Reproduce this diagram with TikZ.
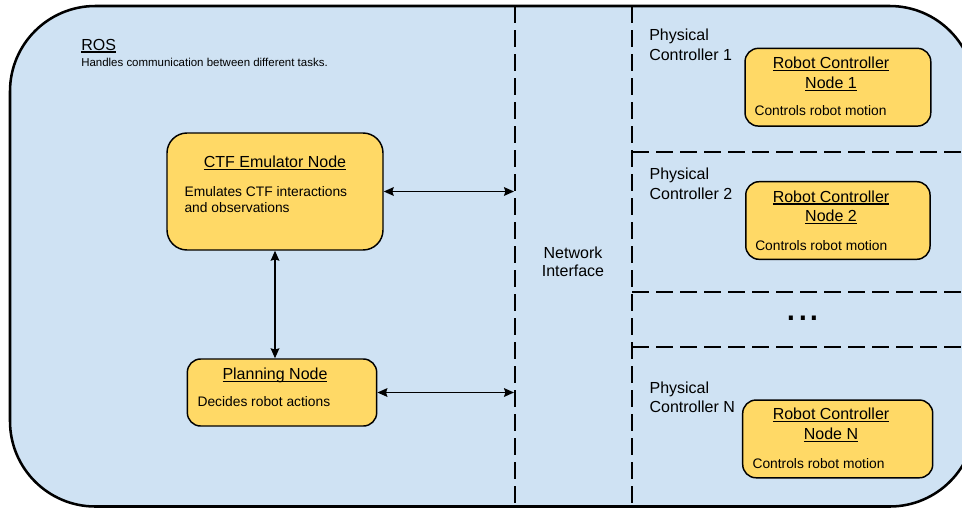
\documentclass[tikz,border=0pt]{standalone}
\usepackage{fontspec}
\setmainfont{Liberation Sans}
\usetikzlibrary{arrows.meta}
\definecolor{rosblue}{HTML}{CFE2F3}
\definecolor{nodeyellow}{HTML}{FFD966}
% underline that sits at a fixed depth below the baseline
\newcommand{\ulin}[1]{\setbox0\hbox{#1}\rlap{\rule[-0.16em]{\wd0}{0.085em}}\box0}
\begin{document}
\begin{tikzpicture}[x=0.75pt,y=-0.75pt,
  ybox/.style={draw=black, line width=1.1pt, fill=nodeyellow, rounded corners=10pt, inner sep=0pt},
  txt/.style={inner sep=0pt, font=\fontsize{12}{14.6}\selectfont},
  small/.style={inner sep=0pt, font=\fontsize{10.35}{12.2}\selectfont},
  tiny/.style={inner sep=0pt, font=\fontsize{8.6}{10}\selectfont},
  netline/.style={line width=1.9pt, dash pattern=on 12.75pt off 5.25pt},
  rosarea/.style={rounded corners=64pt},
  link/.style={line width=1.2pt, {Stealth[length=7.5pt,width=6.5pt,inset=1pt]}-{Stealth[length=7.5pt,width=6.5pt,inset=1pt]}}
]
\clip (0,0) rectangle (962,508);

% ROS area
\path[rosarea, fill=rosblue] (10,6) rectangle (975,506.5);

% network interface and controller partitions
\draw[netline] (515,6) -- (515,508);
\draw[netline] (632,6) -- (632,508);
\draw[netline] (632,152) -- (975,152);
\draw[netline] (632,292) -- (975,292);
\draw[netline] (632,347) -- (975,347);

\draw[rosarea, line width=1.9pt] (10,6) rectangle (975,506.5);

% ROS nodes
\node[ybox, rounded corners=15pt, minimum width=162pt, minimum height=87.75pt] (ctf) at (275,191.5) {};
\node[ybox, minimum width=142pt, minimum height=50.25pt] (plan) at (282,392.5) {};
\node[ybox, minimum width=139.3pt, minimum height=58.3pt] (rc1) at (837.9,87.2) {};
\node[ybox, minimum width=138.2pt, minimum height=58.2pt] (rc2) at (837.9,220.5) {};
\node[ybox, minimum width=142.5pt, minimum height=58.3pt] (rcn) at (837.7,438.9) {};

% connections to the network interface
\coordinate (ni1) at (514,191.5);
\coordinate (ni2) at (514,392.5);
\draw[link] (ctf.east) -- (ni1);
\draw[link] (plan.east) -- (ni2);
\draw[link] (ctf.south) -- (ctf.south |- plan.north);

% labels (multi-line labels are placed by the baseline of their last line)
\node[txt, anchor=base west] (ros) at (81,50) {\ulin{ROS}};
\node[tiny, anchor=base west] (rosdesc) at (81,66) {Handles communication between different tasks.};

\node[txt, anchor=base] (ctft) at (275,167.7) {\ulin{CTF Emulator Node}};
\node[small, anchor=base west, align=left] (ctfd) at (184.3,212.3) {Emulates CTF interactions\\and observations};
\node[txt, anchor=base] (plant) at (275,379.3) {\ulin{Planning Node}};
\node[small, anchor=base west] (pland) at (197.3,406.7) {Decides robot actions};

\node[txt, anchor=base, align=center] (rc1t) at (831,88.3) {\ulin{Robot Controller}\\\ulin{Node 1}};
\node[small, anchor=base west] (rc1d) at (754.3,115) {Controls robot motion};
\node[txt, anchor=base, align=center] (rc2t) at (831,221.7) {\ulin{Robot Controller}\\\ulin{Node 2}};
\node[small, anchor=base west] (rc2d) at (755,250) {Controls robot motion};
\node[txt, anchor=base, align=center] (rcnt) at (831,439.3) {\ulin{Robot Controller}\\\ulin{Node N}};
\node[small, anchor=base west] (rcnd) at (752.3,468.3) {Controls robot motion};

\node[txt, anchor=base west, align=left] (pc1) at (649,60) {Physical\\Controller 1};
\node[txt, anchor=base west, align=left] (pc2) at (649.3,199.3) {Physical\\Controller 2};
\node[txt, anchor=base west, align=left] (pcn) at (649.3,412.7) {Physical\\Controller N};

\node[txt, anchor=base, align=center, font=\fontsize{12}{13.3}\selectfont] (net) at (573,276) {Network\\Interface};
\node[inner sep=0pt, font=\fontsize{31.5}{32}\selectfont] (dots) at (803,318) {...};
\end{tikzpicture}
\end{document}
